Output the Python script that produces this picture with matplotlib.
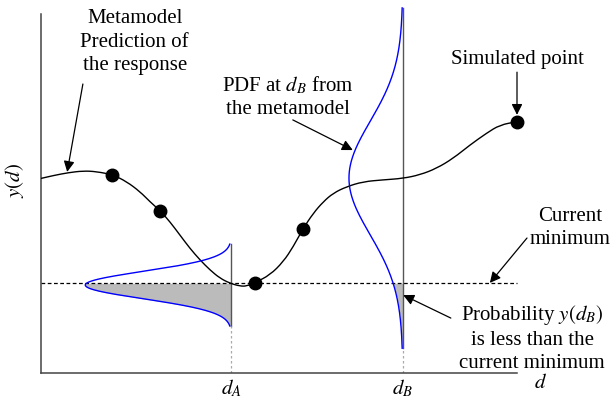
import matplotlib
matplotlib.use('Agg')
import matplotlib.pyplot as plt
from matplotlib.path import Path
from matplotlib.patches import PathPatch
import numpy as np

plt.rcParams['font.family'] = 'Liberation Serif'
plt.rcParams['mathtext.fontset'] = 'stix'

# ── Metamodel prediction ──
curve_d = [0.00, 0.26, 0.57, 0.89, 1.17, 1.51, 1.80, 2.08, 2.29, 2.51, 2.71, 2.92,
           3.13, 3.34, 3.55, 3.76, 3.97, 4.18, 4.32, 4.50, 4.81, 5.09, 5.30, 5.50,
           5.72, 5.93, 6.14, 6.42, 6.77, 7.19, 7.60, 7.96, 8.31, 8.66, 9.01, 9.36,
           9.64, 10.0]
curve_y = [5.42, 5.50, 5.58, 5.63, 5.61, 5.52, 5.33, 5.05, 4.77, 4.51, 4.21, 3.84,
           3.47, 3.15, 2.87, 2.64, 2.50, 2.42, 2.42, 2.52, 2.73, 3.10, 3.52, 4.01,
           4.45, 4.77, 5.01, 5.19, 5.33, 5.38, 5.42, 5.52, 5.70, 5.98, 6.35, 6.68,
           6.91, 7.00]

# Simulated points
sim_d = [1.5, 2.5, 4.5, 5.5, 10.0]
sim_y = [5.52, 4.50, 2.52, 4.01, 7.00]

current_min = 2.5

# PDFs at d_A and d_B: location, mean, sigma, peak width
d_A, mean_A, sigma_A, amp_A = 4.0, 2.45, 0.38, 3.07
d_B, mean_B, sigma_B, amp_B = 7.6, 5.43, 1.58, 1.13

fig = plt.figure(figsize=(6.15, 4.04), dpi=100)
ax = fig.add_axes([41/615, 31/404, 476/615, 359/404])
ax.set_xlim(0, 10)
ax.set_ylim(0, 10)

for s in ['top', 'right']:
    ax.spines[s].set_visible(False)
for s in ['left', 'bottom']:
    ax.spines[s].set_color('#444444')
    ax.spines[s].set_linewidth(1.1)
ax.set_xticks([])
ax.set_yticks([])

# current minimum
ax.plot([0, 10], [current_min, current_min], color='black', lw=0.9,
        ls=(0, (3, 2)), clip_on=False, zorder=2)

# metamodel curve: smooth quadratic bezier through the read points
pts = np.column_stack([curve_d, curve_y])
mids = (pts[:-1] + pts[1:]) / 2
verts = [pts[0]]
codes = [Path.MOVETO]
verts.append(mids[0]); codes.append(Path.LINETO)
for i in range(1, len(pts) - 1):
    verts += [pts[i], mids[i]]
    codes += [Path.CURVE3, Path.CURVE3]
verts.append(pts[-1]); codes.append(Path.LINETO)
ax.add_patch(PathPatch(Path(verts, codes), fc='none', ec='black', lw=1.0,
                       zorder=3))
ax.plot(sim_d, sim_y, 'o', color='black', ms=9, clip_on=False, zorder=4)


def draw_pdf(d, mean, sigma, amp, line_top):
    yy = np.linspace(mean - 3 * sigma, mean + 3 * sigma, 300)
    xx = d - amp * np.exp(-0.5 * ((yy - mean) / sigma) ** 2)
    below = yy <= current_min
    ax.fill_betweenx(yy[below], xx[below], d, color='#bbbbbb', lw=0, zorder=1)
    ax.plot(xx, yy, color='#0000ff', lw=1.0, clip_on=False, zorder=3)
    lo = mean - 3 * sigma
    ax.plot([d, d], [lo, line_top], color='#555555', lw=1.0, clip_on=False, zorder=2)
    ax.plot([d, d], [0, lo], color='#aaaaaa', lw=0.9, ls=(0, (2, 2)), zorder=2)


draw_pdf(d_A, mean_A, sigma_A, amp_A, mean_A + 3 * sigma_A)
draw_pdf(d_B, mean_B, sigma_B, amp_B, mean_B + 3 * sigma_B)

arw = dict(arrowstyle='-|>', color='black', lw=0.9, mutation_scale=16,
           shrinkA=0, shrinkB=0)
fs = 15
lsp = 1.3

ax.annotate('', xy=(0.55, 5.60), xytext=(0.88, 8.05), arrowprops=arw)
ax.text(1.97, 9.22, 'Metamodel\nPrediction of\nthe response', ha='center',
        va='center', fontsize=fs, linespacing=lsp)

ax.annotate('', xy=(6.55, 6.21), xytext=(5.29, 7.05), arrowprops=arw)
ax.text(5.19, 7.70, 'PDF at $d_B$ from\nthe metamodel', ha='center',
        va='center', fontsize=fs, linespacing=lsp)

ax.annotate('', xy=(10.0, 7.19), xytext=(10.0, 8.38), arrowprops=arw,
            annotation_clip=False)
ax.text(10.0, 8.72, 'Simulated point', ha='center', va='center', fontsize=fs,
        clip_on=False)

ax.annotate('', xy=(9.43, 2.51), xytext=(10.21, 3.76), arrowprops=arw,
            annotation_clip=False)
ax.text(11.11, 4.05, 'Current\nminimum', ha='center', va='center', fontsize=fs,
        linespacing=lsp, clip_on=False)

ax.annotate('', xy=(7.61, 2.17), xytext=(8.61, 1.53), arrowprops=arw,
            annotation_clip=False)
ax.text(10.32, 0.98, 'Probability $y(d_B)$\nis less than the\ncurrent minimum',
        ha='center', va='center', fontsize=fs, linespacing=lsp, clip_on=False)

# axis labels
ax.text(d_A, -0.42, '$d_A$', ha='center', va='center', fontsize=fs, clip_on=False)
ax.text(d_B, -0.42, '$d_B$', ha='center', va='center', fontsize=fs, clip_on=False)
ax.text(10.5, -0.3, '$d$', ha='center', va='center', fontsize=fs, clip_on=False)
ax.text(-0.55, 5.35, '$y(d)$', ha='center', va='center', fontsize=fs,
        rotation=90, clip_on=False)

fig.savefig('out.png', dpi=100, facecolor='white')
plt.close()
